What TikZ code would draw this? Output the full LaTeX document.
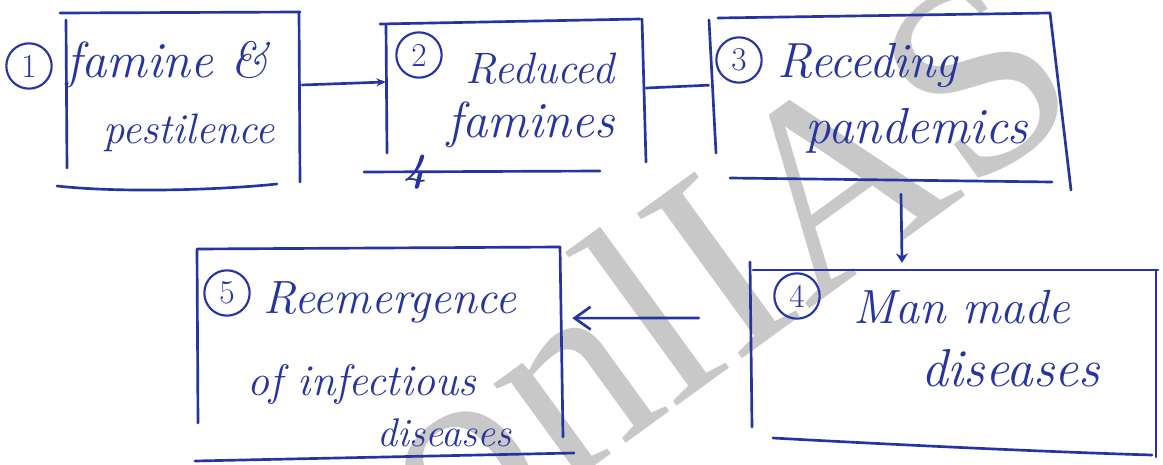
\documentclass[tikz,border=0pt]{standalone}
\usepackage{fontspec}
\usetikzlibrary{arrows.meta}
\newfontfamily\wmfont{Liberation Serif}
\definecolor{ink}{RGB}{38,52,160}
\definecolor{wmgrey}{RGB}{200,200,200}

\begin{document}
\begin{tikzpicture}[x=0.75pt,y=-0.75pt,line cap=round,line join=round,
  pen/.style={draw=ink,line width=2pt},
  link/.style={pen},
  area/.style={draw=none,inner sep=0pt},
  word/.style={text=ink,anchor=base west,inner sep=0pt},
  num/.style={circle,draw=ink,line width=1.6pt,text=ink,minimum size=34pt,
    inner sep=0pt,font=\fontsize{25}{25}\selectfont}
]
\useasboundingbox (0,0) rectangle (1163,464);
\fill[white] (0,0) rectangle (1163,464);

% faint watermark behind the sketch
\node[text=wmgrey,rotate=36,inner sep=0pt,font=\wmfont\fontsize{205}{205}\selectfont] (wm) at (716,262) {onlIAS};

% box regions
\node[area,minimum width=175.5pt,minimum height=131.25pt] (b1) at (183,99.5) {};
\node[area,minimum width=193.5pt,minimum height=114pt] (b2) at (515,96) {};
\node[area,minimum width=261pt,minimum height=125.25pt] (b3) at (886,98.5) {};
\node[area,minimum width=303.75pt,minimum height=136.5pt] (b4) at (953.5,361) {};
\node[area,minimum width=273.75pt,minimum height=155.25pt] (b5) at (379.5,351.5) {};

% hand-drawn box outlines
\draw[pen] (60,13) -- (300,12);
\draw[pen] (66,20) -- (67,168);
\draw[pen] (299,12) -- (300,182);
\draw[pen] (57,186) .. controls (120,193) and (220,190) .. (277,184);

\draw[pen] (380,24) -- (640,19);
\draw[pen] (386,25) -- (387,153);
\draw[pen] (642,19) -- (646,162);
\draw[pen] (364,172) -- (600,171);

\draw[pen] (718,18) -- (1050,13);
\draw[pen] (709,20) -- (716,153);
\draw[pen] (1050,13) -- (1071,190);
\draw[pen] (730,178) -- (1052,182);

\draw[pen] (753,270) -- (1158,270);
\draw[pen] (750,262) -- (752,427);
\draw[pen] (1156,270) -- (1156,457);
\draw[pen] (773,438) .. controls (900,445) and (1050,452) .. (1152,455);

\draw[pen] (197,249) -- (560,247);
\draw[pen] (197,250) -- (198,423);
\draw[pen] (560,247) -- (563,437);
\draw[pen] (195,461) -- (574,453);

% step numbers
\node[num] (n1) at (29,66) {1};
\node[num] (n2) at (419,55) {2};
\node[num] (n3) at (739,60) {3};
\node[num] (n4) at (797,296) {4};
\node[num] (n5) at (227,293) {5};

% labels
\node[word,font=\itshape\fontsize{38}{38}\selectfont] (t1a) at (66,77) {famine \&};
\node[word,font=\itshape\fontsize{32}{32}\selectfont] (t1b) at (103,143) {pestilence};
\node[word,font=\itshape\fontsize{33}{33}\selectfont] (t2a) at (465,83) {Reduced};
\node[word,font=\itshape\fontsize{38}{38}\selectfont] (t2b) at (447,137) {famines};
\node[word,font=\itshape\fontsize{37}{37}\selectfont] (t3a) at (777,77) {Receding};
\node[word,font=\itshape\fontsize{38}{38}\selectfont] (t3b) at (805,143) {pandemics};
\node[word,font=\itshape\fontsize{36}{36}\selectfont] (t4a) at (853,323) {Man made};
\node[word,font=\itshape\fontsize{40}{40}\selectfont] (t4b) at (921,386) {diseases};
\node[word,font=\itshape\fontsize{35}{35}\selectfont] (t5a) at (263,313) {Reemergence};
\node[word,font=\itshape\fontsize{33}{33}\selectfont] (t5b) at (247,395) {of infectious};
\node[word,font=\itshape\fontsize{30}{30}\selectfont] (t5c) at (377,446) {diseases};

% stray numeral under box 2
\node[text=ink,inner sep=0pt,font=\bfseries\itshape\fontsize{30}{30}\selectfont] (s4) at (415,172) {4};

% connectors
\draw[link,-{Stealth[length=7pt,width=6pt]}] ([xshift=1.5pt,yshift=10.9pt]b1.east) -- ([yshift=10.5pt]b2.west);
\draw[link] ([xshift=1.5pt,yshift=6pt]b2.east) -- ([xshift=-2.25pt,yshift=10pt]b3.west);
\draw[link,-{Stealth[length=7pt,width=9pt]}] ([xshift=11.25pt,yshift=-9pt]b3.south) -- ([xshift=-38.6pt,yshift=5.25pt]b4.north);
\draw[link,-{Straight Barb[length=12pt,width=17pt]}] ([xshift=-39pt,yshift=32.25pt]b4.west) -- ([xshift=7.5pt,yshift=25pt]b5.east);
\end{tikzpicture}
\end{document}
